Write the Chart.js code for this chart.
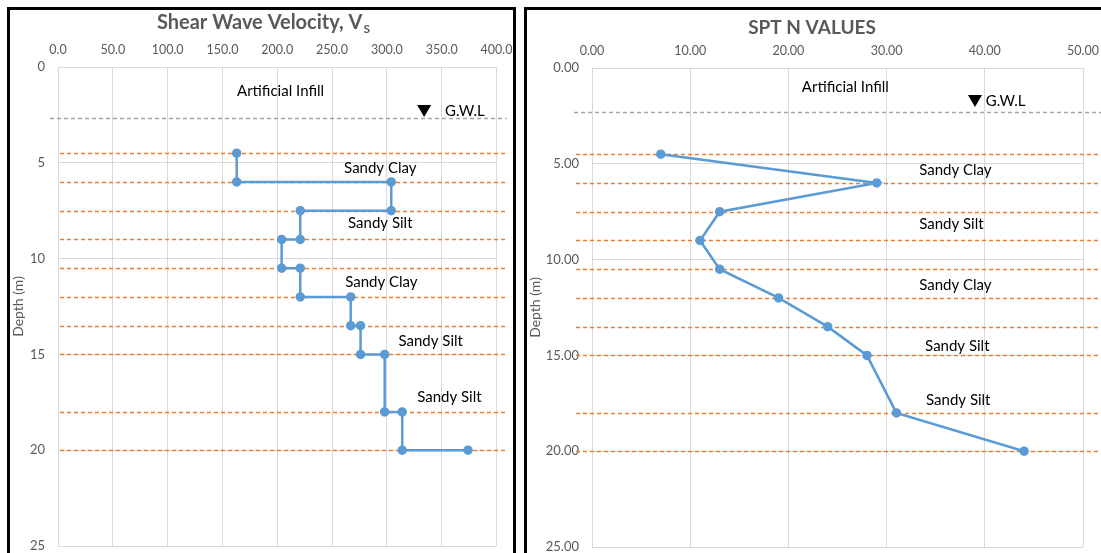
<!DOCTYPE html>
<html>
<head>
<meta charset="utf-8">
<script src="https://cdn.jsdelivr.net/npm/chart.js@4.4.0/dist/chart.umd.min.js"></script>
<style>
  html, body { margin: 0; padding: 0; background: #fff; width: 1101px; height: 553px; overflow: hidden; }
  .frame { position: absolute; top: 7px; border: 3px solid #000; background: #fff; }
  #vsBox { left: 7px; width: 503px; height: 570px; }
  #sptBox { left: 524px; width: 600px; height: 570px; }
  canvas { display: block; }
</style>
</head>
<body>
<div class="frame" id="vsBox"><canvas id="vsChart" width="503" height="570"></canvas></div>
<div class="frame" id="sptBox"><canvas id="sptChart" width="600" height="570"></canvas></div>
<script>
// shear wave velocity profile (step line)
const vsValues = [163, 163, 304, 304, 221, 221, 204, 204, 221, 221, 267, 267, 276, 276, 298, 298, 314, 314, 374];
const vsDepths = [4.5, 6, 6, 7.5, 7.5, 9, 9, 10.5, 10.5, 12, 12, 13.5, 13.5, 15, 15, 18, 18, 20, 20];

// SPT N values
const sptValues = [7, 29, 13, 11, 13, 19, 24, 28, 31, 44];
const sptDepths = [4.5, 6, 7.5, 9, 10.5, 12, 13.5, 15, 18, 20];

// layer boundaries and ground water level
const layerDepths = [4.5, 6, 7.5, 9, 10.5, 12, 13.5, 15, 18, 20];
const gwlDepthVs = 2.67;
const gwlDepthSpt = 2.3;

const layerNames = ['Artificial Infill', 'Sandy Clay', 'Sandy Silt', 'Sandy Clay', 'Sandy Silt', 'Sandy Silt'];

// where the layer names sit, in axis units
const vsLabelX = [203, 294, 294, 295, 340, 357];
const vsLabelD = [1.25, 5.28, 8.15, 11.24, 14.32, 17.25];
const sptLabelX = [25.8, 37.0, 36.6, 37.0, 37.2, 37.3];
const sptLabelD = [0.99, 5.32, 8.14, 11.32, 14.5, 17.32];

const GREY_TXT = '#595959';
const GRID = '#D9D9D9';
const BLUE = '#5B9BD5';
const ORANGE = '#ED7D31';

const overlay = {
  id: 'overlay',
  beforeDatasetsDraw(chart, args, o) {
    const { ctx, chartArea: a, scales: { y } } = chart;
    ctx.save();
    ctx.lineWidth = 1.3;
    ctx.setLineDash([4, 3]);
    ctx.strokeStyle = '#A5A5A5';
    let py = Math.round(y.getPixelForValue(o.gwl)) + 0.5;
    ctx.beginPath();
    ctx.moveTo(a.left + o.gwlStart, py);
    ctx.lineTo(a.right + o.lineEnd, py);
    ctx.stroke();
    ctx.strokeStyle = ORANGE;
    layerDepths.forEach(d => {
      py = Math.round(y.getPixelForValue(d)) + 0.5;
      ctx.beginPath();
      ctx.moveTo(a.left + o.lineStart, py);
      ctx.lineTo(a.right + o.lineEnd, py);
      ctx.stroke();
    });
    ctx.restore();
  },
  afterDatasetsDraw(chart, args, o) {
    const { ctx, scales: { x, y } } = chart;
    ctx.save();
    ctx.fillStyle = '#000';
    ctx.font = '15px Lato';
    ctx.textAlign = 'center';
    ctx.textBaseline = 'middle';
    layerNames.forEach((name, i) => {
      ctx.fillText(name, x.getPixelForValue(o.labelX[i]), y.getPixelForValue(o.labelD[i]));
    });
    // ground water level marker
    const tx = x.getPixelForValue(o.triX);
    const ty = y.getPixelForValue(o.triD);
    ctx.beginPath();
    ctx.moveTo(tx - 7, ty - 12);
    ctx.lineTo(tx + 7, ty - 12);
    ctx.lineTo(tx, ty);
    ctx.closePath();
    ctx.fill();
    ctx.textAlign = 'left';
    ctx.fillText('G.W.L', x.getPixelForValue(o.gwlTextX), y.getPixelForValue(o.gwlTextD));
    ctx.restore();
  },
  afterDraw(chart, args, o) {
    const ctx = chart.ctx;
    ctx.save();
    ctx.fillStyle = GREY_TXT;
    ctx.textBaseline = 'middle';
    ctx.textAlign = 'left';
    const big = 'bold ' + o.titleSize + 'px Lato';
    ctx.font = big;
    const w1 = ctx.measureText(o.title).width;
    let w2 = 0;
    if (o.sub) {
      ctx.font = 'bold 12px Lato';
      w2 = ctx.measureText(o.sub).width;
    }
    const x0 = o.titleX - (w1 + w2) / 2;
    ctx.font = big;
    ctx.fillText(o.title, x0, o.titleY);
    if (o.sub) {
      ctx.font = 'bold 12px Lato';
      ctx.fillText(o.sub, x0 + w1 + 1, o.titleY + 6);
    }
    ctx.restore();
  }
};

function axes(xMax, xStep, xDigits, yDigits, xHeight, yWidth) {
  return {
    x: {
      type: 'linear', position: 'top', min: 0, max: xMax,
      afterFit: s => { s.height = xHeight; s.paddingLeft = 0; s.paddingRight = 0; },
      grid: { color: GRID, drawTicks: false },
      border: { color: GRID },
      ticks: { stepSize: xStep, padding: 10, color: GREY_TXT, font: { family: 'Lato', size: 12.5 },
               callback: v => v.toFixed(xDigits) }
    },
    y: {
      type: 'linear', reverse: true, min: 0, max: 25,
      afterFit: s => { s.width = yWidth; },
      grid: { color: GRID, drawTicks: false },
      border: { color: GRID },
      title: { display: true, text: 'Depth (m)', color: GREY_TXT, font: { family: 'Lato', size: 14 }, padding: { top: 0, bottom: 0 } },
      ticks: { stepSize: 5, padding: 13, color: GREY_TXT, font: { family: 'Lato', size: 13 },
               callback: v => v.toFixed(yDigits) }
    }
  };
}

function series(xs, ds) {
  return {
    data: xs.map((v, i) => ({ x: v, y: ds[i] })),
    showLine: true,
    borderColor: BLUE,
    backgroundColor: BLUE,
    borderWidth: 2.5,
    pointRadius: 3.5,
    pointHoverRadius: 3.5,
    tension: 0
  };
}

new Chart(document.getElementById('vsChart'), {
  type: 'scatter',
  data: { datasets: [series(vsValues, vsDepths)] },
  options: {
    responsive: false,
    animation: false,
    layout: { padding: { top: 17, left: 0, right: 16.5, bottom: 34 } },
    scales: axes(400, 50, 1, 0, 40, 48),
    plugins: {
      legend: { display: false },
      tooltip: { enabled: false },
      overlay: {
        gwl: gwlDepthVs, gwlStart: -8, lineStart: 2, lineEnd: 10,
        labelX: vsLabelX, labelD: vsLabelD,
        triX: 334, triD: 2.61, gwlTextX: 353, gwlTextD: 2.3,
        title: 'Shear Wave Velocity, V', sub: 'S', titleSize: 20, titleX: 253, titleY: 13
      }
    }
  },
  plugins: [overlay]
});

new Chart(document.getElementById('sptChart'), {
  type: 'scatter',
  data: { datasets: [series(sptValues, sptDepths)] },
  options: {
    responsive: false,
    animation: false,
    layout: { padding: { top: 18, left: 0, right: 44, bottom: 33 } },
    scales: axes(50, 10, 2, 2, 40, 65),
    plugins: {
      legend: { display: false },
      tooltip: { enabled: false },
      overlay: {
        gwl: gwlDepthSpt, gwlStart: -18, lineStart: -16, lineEnd: 20,
        labelX: sptLabelX, labelD: sptLabelD,
        triX: 39.0, triD: 2.03, gwlTextX: 40.1, gwlTextD: 1.72,
        title: 'SPT N VALUES', sub: '', titleSize: 19, titleX: 285, titleY: 18
      }
    }
  },
  plugins: [overlay]
});
</script>
</body>
</html>
